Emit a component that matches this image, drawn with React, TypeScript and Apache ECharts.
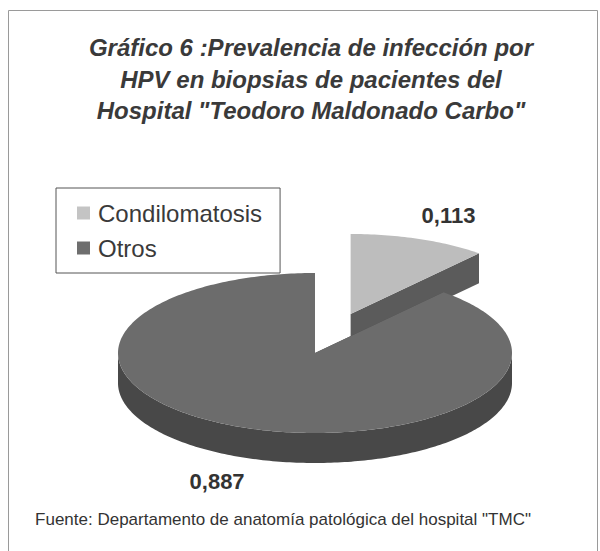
import React, { useEffect, useRef } from "react";
import * as echarts from "echarts";

const titleLines = [
  "Gráfico 6 :Prevalencia de infección por",
  "HPV en biopsias de pacientes del",
  'Hospital "Teodoro Maldonado Carbo"',
];
const categories = ["Condilomatosis", "Otros"];
const values = [0.113, 0.887];
const sourceNote = 'Fuente: Departamento de anatomía patológica del hospital "TMC"';

const topColors = ["#bdbdbd", "#6c6c6c"];
const sideColors = ["#5b5b5b", "#484848"];
const legendColors = ["#c4c4c4", "#6e6e6e"];
const explode = [0.52, 0];

const CX = 315;
const CY = 353;
const RX = 197;
const RY = 80;
const DEPTH = 30;
const FONT = '"Liberation Sans", Arial, sans-serif';

const rad = (d: number) => (d * Math.PI) / 180;

function makeRender(idx: number) {
  return (_params: any, _api: any) => {
    const total = values.reduce((a, b) => a + b, 0);
    let start = 90;
    for (let k = 0; k < idx; k++) start -= (values[k] / total) * 360;
    const sweep = (values[idx] / total) * 360;
    const end = start - sweep;
    const mid = (start + end) / 2;
    const ox = explode[idx] * RX * Math.cos(rad(mid));
    const oy = -explode[idx] * RY * Math.sin(rad(mid));
    const cx = CX + ox;
    const cy = CY + oy;
    const pt = (a: number, dy = 0) => [cx + RX * Math.cos(rad(a)), cy - RY * Math.sin(rad(a)) + dy];

    const n = Math.max(8, Math.ceil(sweep));
    let arc: number[] = [];
    for (let j = 0; j <= n; j++) arc.push(start - (sweep * j) / n);
    for (let b = Math.ceil(end / 180) * 180; b <= start; b += 180) arc.push(b);
    arc = Array.from(new Set(arc)).sort((a, b) => b - a);

    const children: any[] = [];
    for (const a of [start, end]) {
      const p = pt(a);
      children.push({
        type: "polygon",
        shape: { points: [[cx, cy], p, [p[0], p[1] + DEPTH], [cx, cy + DEPTH]] },
        style: { fill: sideColors[idx] },
      });
    }
    let run: number[] = [];
    const flush = () => {
      if (run.length > 1) {
        const top = run.map((a) => pt(a));
        const bot = run.slice().reverse().map((a) => pt(a, DEPTH));
        children.push({
          type: "polygon",
          shape: { points: [...top, ...bot] },
          style: { fill: sideColors[idx] },
        });
      }
      run = [];
    };
    for (const a of arc) {
      if (Math.sin(rad(a)) <= 1e-6) run.push(a);
      else flush();
    }
    flush();
    children.push({
      type: "polygon",
      shape: { points: [[cx, cy], ...arc.map((a) => pt(a))] },
      style: { fill: topColors[idx] },
    });
    const kx = 1.43;
    const ky = 1.31;
    const lx = cx + RX * kx * Math.cos(rad(mid));
    const ly = cy - RY * ky * Math.sin(rad(mid)) + (Math.sin(rad(mid)) < 0 ? DEPTH : 0);
    children.push({
      type: "text",
      style: {
        x: lx,
        y: ly,
        text: values[idx].toFixed(3).replace(".", ","),
        fill: "#333333",
        font: `bold 22px ${FONT}`,
        align: "center",
        verticalAlign: "middle",
      },
    });
    return { type: "group", children };
  };
}

export default function App() {
  const ref = useRef<HTMLDivElement>(null);
  useEffect(() => {
    if (!ref.current) return;
    const chart = echarts.init(ref.current, undefined, { renderer: "svg" });
    chart.setOption({
      animation: false,
      backgroundColor: "#ffffff",
      title: {
        text: titleLines.join("\n"),
        left: 306,
        top: 27,
        textAlign: "center",
        textStyle: {
          fontFamily: FONT,
          fontSize: 24,
          fontWeight: "bold",
          fontStyle: "italic",
          color: "#3a3a3a",
          lineHeight: 31.5,
        },
      },
      legend: {
        orient: "vertical",
        left: 56,
        top: 188,
        padding: [13, 18, 13, 21],
        itemGap: 11,
        itemWidth: 13,
        itemHeight: 13,
        icon: "rect",
        borderColor: "#555555",
        borderWidth: 1,
        data: categories,
        textStyle: {
          fontFamily: FONT,
          fontSize: 24,
          lineHeight: 24,
          color: "#3a3a3a",
          padding: [0, 0, 0, 3],
        },
        selectedMode: false,
      },
      graphic: [
        {
          type: "rect",
          z: -10,
          shape: { x: 8.5, y: 10.5, width: 589, height: 560 },
          style: { fill: "none", stroke: "#9a9a9a", lineWidth: 1 },
        },
        {
          type: "text",
          x: 283,
          y: 519,
          style: {
            text: sourceNote,
            font: `17px ${FONT}`,
            fill: "#333333",
            align: "center",
            verticalAlign: "middle",
          },
        },
      ],
      series: categories.map((name, idx) => ({
        type: "custom",
        name,
        coordinateSystem: "none",
        itemStyle: { color: legendColors[idx] },
        data: [values[idx]],
        renderItem: makeRender(idx),
        z: idx + 1,
      })),
    });
    return () => chart.dispose();
  }, []);
  return (
    <div
      ref={ref}
      style={{ position: "fixed", left: 0, top: 0, width: 600, height: 551 }}
    />
  );
}
